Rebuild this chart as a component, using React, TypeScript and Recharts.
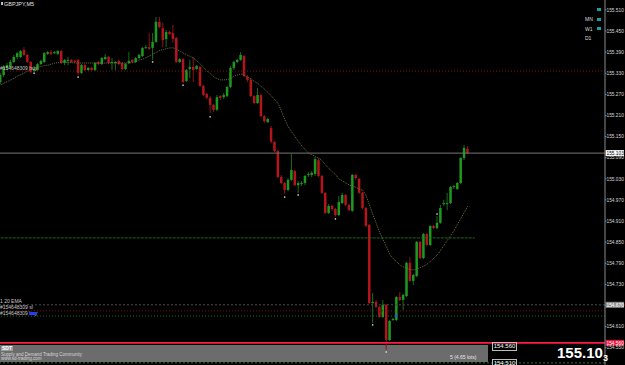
import React from 'react';
import { ComposedChart, Bar, Line, XAxis, YAxis, ReferenceLine } from 'recharts';

// GBPJPY M5 candles
const OPEN = [
  155.305, 155.325, 155.345, 155.348, 155.362, 155.376, 155.376, 155.396, 155.382, 155.362,
  155.336, 155.339, 155.356, 155.362, 155.385, 155.390, 155.387, 155.385, 155.393, 155.359,
  155.365, 155.368, 155.365, 155.368, 155.331, 155.353, 155.339, 155.345, 155.339, 155.362,
  155.356, 155.370, 155.376, 155.359, 155.359, 155.365, 155.359, 155.342, 155.359, 155.368,
  155.362, 155.373, 155.379, 155.402, 155.404, 155.402, 155.419, 155.476, 155.458, 155.427,
  155.447, 155.444, 155.430, 155.362, 155.370, 155.308, 155.342, 155.348, 155.342, 155.348,
  155.294, 155.271, 155.260, 155.240, 155.226, 155.265, 155.262, 155.265, 155.291, 155.345,
  155.362, 155.368, 155.379, 155.319, 155.311, 155.265, 155.245, 155.268, 155.208, 155.191,
  155.174, 155.135, 155.109, 155.035, 155.018, 154.998, 155.027, 155.052, 155.012, 155.015,
  155.018, 155.041, 155.041, 155.044, 155.083, 155.038, 154.990, 154.933, 154.953, 154.944,
  154.927, 154.961, 154.984, 154.956, 154.939, 155.041, 155.030, 154.990, 154.947, 154.899,
  154.677, 154.680, 154.666, 154.637, 154.672, 154.572, 154.629, 154.629, 154.694, 154.686,
  154.697, 154.791, 154.740, 154.754, 154.851, 154.805, 154.873, 154.842, 154.896, 154.890,
  154.905, 154.958, 154.958, 154.961, 155.007, 155.001, 155.018, 155.089, 155.115,
];
const HIGH = [
  155.331, 155.353, 155.359, 155.368, 155.382, 155.390, 155.396, 155.404, 155.385, 155.365,
  155.351, 155.359, 155.368, 155.390, 155.393, 155.396, 155.393, 155.396, 155.396, 155.370,
  155.376, 155.370, 155.368, 155.370, 155.356, 155.356, 155.348, 155.348, 155.362, 155.365,
  155.376, 155.385, 155.379, 155.373, 155.365, 155.368, 155.362, 155.359, 155.390, 155.370,
  155.376, 155.385, 155.404, 155.410, 155.444, 155.444, 155.490, 155.490, 155.473, 155.453,
  155.450, 155.467, 155.433, 155.373, 155.373, 155.342, 155.368, 155.376, 155.353, 155.351,
  155.297, 155.274, 155.265, 155.243, 155.268, 155.268, 155.274, 155.294, 155.351, 155.365,
  155.370, 155.390, 155.382, 155.325, 155.314, 155.268, 155.288, 155.271, 155.211, 155.203,
  155.180, 155.137, 155.112, 155.041, 155.021, 155.032, 155.101, 155.055, 155.024, 155.024,
  155.041, 155.049, 155.052, 155.092, 155.089, 155.041, 154.993, 154.958, 154.956, 154.947,
  154.981, 154.990, 154.987, 154.958, 155.044, 155.044, 155.032, 154.993, 154.950, 154.902,
  154.706, 154.686, 154.669, 154.686, 154.674, 154.629, 154.635, 154.697, 154.708, 154.703,
  154.794, 154.808, 154.760, 154.853, 154.853, 154.876, 154.876, 154.899, 154.899, 154.924,
  154.956, 154.970, 154.990, 155.010, 155.012, 155.021, 155.092, 155.126, 155.123,
];
const LOW = [
  155.299, 155.319, 155.339, 155.345, 155.359, 155.370, 155.373, 155.379, 155.359, 155.331,
  155.333, 155.336, 155.353, 155.359, 155.382, 155.382, 155.385, 155.382, 155.356, 155.353,
  155.353, 155.359, 155.359, 155.325, 155.328, 155.336, 155.336, 155.336, 155.336, 155.353,
  155.353, 155.368, 155.356, 155.339, 155.339, 155.353, 155.339, 155.339, 155.356, 155.359,
  155.359, 155.370, 155.376, 155.399, 155.396, 155.368, 155.416, 155.458, 155.404, 155.404,
  155.439, 155.416, 155.359, 155.359, 155.302, 155.305, 155.316, 155.305, 155.339, 155.291,
  155.265, 155.257, 155.217, 155.220, 155.223, 155.254, 155.257, 155.262, 155.288, 155.339,
  155.359, 155.365, 155.319, 155.305, 155.262, 155.243, 155.243, 155.206, 155.189, 155.189,
  155.132, 155.106, 155.032, 155.015, 154.987, 154.995, 155.024, 155.010, 154.990, 155.010,
  155.012, 155.035, 155.035, 155.038, 155.035, 154.987, 154.930, 154.930, 154.939, 154.922,
  154.924, 154.958, 154.953, 154.939, 154.936, 155.027, 154.987, 154.944, 154.893, 154.674,
  154.620, 154.663, 154.635, 154.635, 154.544, 154.569, 154.626, 154.626, 154.683, 154.657,
  154.694, 154.737, 154.728, 154.751, 154.802, 154.802, 154.839, 154.839, 154.887, 154.887,
  154.902, 154.953, 154.941, 154.958, 155.001, 154.998, 155.015, 155.083, 155.101,
];
const CLOSE = [
  155.325, 155.348, 155.353, 155.362, 155.376, 155.387, 155.393, 155.382, 155.362, 155.333,
  155.342, 155.356, 155.365, 155.387, 155.390, 155.385, 155.390, 155.393, 155.359, 155.368,
  155.368, 155.362, 155.362, 155.331, 155.353, 155.339, 155.345, 155.339, 155.359, 155.356,
  155.373, 155.376, 155.359, 155.362, 155.362, 155.356, 155.342, 155.356, 155.365, 155.362,
  155.373, 155.382, 155.402, 155.404, 155.399, 155.419, 155.476, 155.461, 155.424, 155.447,
  155.441, 155.427, 155.362, 155.370, 155.305, 155.339, 155.348, 155.339, 155.351, 155.294,
  155.268, 155.260, 155.240, 155.226, 155.262, 155.260, 155.268, 155.291, 155.345, 155.362,
  155.368, 155.382, 155.322, 155.311, 155.265, 155.245, 155.268, 155.208, 155.194, 155.200,
  155.135, 155.109, 155.035, 155.018, 154.998, 155.027, 155.055, 155.012, 155.018, 155.018,
  155.038, 155.044, 155.047, 155.086, 155.038, 154.990, 154.933, 154.953, 154.944, 154.927,
  154.964, 154.984, 154.956, 154.941, 155.041, 155.032, 154.990, 154.947, 154.896, 154.677,
  154.680, 154.666, 154.637, 154.672, 154.572, 154.626, 154.632, 154.694, 154.686, 154.700,
  154.791, 154.740, 154.757, 154.851, 154.805, 154.873, 154.842, 154.896, 154.890, 154.905,
  154.947, 154.961, 154.961, 155.007, 155.010, 155.018, 155.089, 155.118, 155.103,
];
// 20 EMA (dotted khaki line)
const EMA20 = [
  155.297, 155.302, 155.306, 155.311, 155.316, 155.322, 155.326, 155.331, 155.336, 155.341,
  155.345, 155.348, 155.349, 155.352, 155.353, 155.356, 155.359, 155.360, 155.362, 155.362,
  155.360, 155.360, 155.359, 155.359, 155.359, 155.359, 155.359, 155.359, 155.359, 155.359,
  155.359, 155.359, 155.359, 155.359, 155.359, 155.359, 155.359, 155.359, 155.359, 155.360,
  155.363, 155.368, 155.370, 155.375, 155.379, 155.385, 155.389, 155.395, 155.397, 155.400,
  155.402, 155.402, 155.397, 155.392, 155.387, 155.382, 155.378, 155.372, 155.365, 155.356,
  155.346, 155.336, 155.328, 155.319, 155.314, 155.311, 155.311, 155.312, 155.316, 155.322,
  155.325, 155.328, 155.323, 155.319, 155.314, 155.306, 155.301, 155.292, 155.284, 155.275,
  155.265, 155.254, 155.243, 155.220, 155.197, 155.177, 155.163, 155.149, 155.135, 155.123,
  155.112, 155.103, 155.098, 155.093, 155.089, 155.081, 155.069, 155.059, 155.049, 155.041,
  155.029, 155.024, 155.018, 155.012, 155.010, 155.005, 155.001, 154.997, 154.981, 154.953,
  154.927, 154.902, 154.876, 154.856, 154.836, 154.814, 154.802, 154.794, 154.785, 154.779,
  154.775, 154.772, 154.771, 154.774, 154.778, 154.782, 154.788, 154.796, 154.805, 154.814,
  154.828, 154.842, 154.856, 154.870, 154.885, 154.902, 154.919, 154.936, 154.953,
];
// fractal dots: [bar index, price]
const FRACTALS: [number, number][] = [
  [10, 155.330], [23, 155.319], [45, 155.362], [54, 155.296], [62, 155.206], [84, 154.978],
  [88, 154.984], [99, 154.916], [110, 154.615], [114, 154.538], [129, 154.930],
];
const ENTRY: [number, number] = [117, 154.640];

const PRICE_TICKS = [
  155.51, 155.45, 155.39, 155.33, 155.27, 155.21, 155.15, 155.09, 155.03,
  154.97, 154.91, 154.85, 154.79, 154.73, 154.67, 154.61, 154.55,
];

const BID = 155.103;
const BUY_LEVEL = 155.336;
const ZONE_LEVEL = 154.862;
const EMA_LEVEL = 154.672;
const SL_LEVEL = 154.655;
const BUY2_LEVEL = 154.64;
const ALERT_LEVEL = 154.564;
const SESSION_LEVEL = 154.507;

const SLOTS = 179; // chart shift leaves empty space on the right
const FONT = "'Liberation Sans', Arial, sans-serif";

const rows = Array.from({ length: SLOTS }, (_, i) => {
  const has = i < OPEN.length;
  const f = FRACTALS.find(d => d[0] === i);
  return {
    slot: i,
    open: has ? OPEN[i] : null,
    high: has ? HIGH[i] : null,
    low: has ? LOW[i] : null,
    close: has ? CLOSE[i] : null,
    range: has ? [LOW[i], HIGH[i]] : null,
    ema: has ? EMA20[i] : null,
    dot: f ? f[1] : null,
    entry: i === ENTRY[0] ? ENTRY[1] : null,
  };
});

function Candle(props: any) {
  const { x, y, width, height, payload } = props;
  if (!payload || payload.open == null) return null;
  const { open, close, high, low, dot, entry } = payload;
  const top = height < 0 ? y + height : y;
  const span = Math.abs(height);
  const k = span / (high - low || 1);
  const py = (v: number) => top + (high - v) * k;
  const up = close >= open;
  const body = up ? '#1d9a1d' : '#b3151b';
  const wick = up ? '#1e6a1e' : '#8a1418';
  const cx = x + width / 2;
  const bTop = py(Math.max(open, close));
  const bBot = py(Math.min(open, close));
  return (
    <g>
      <line x1={cx} x2={cx} y1={top} y2={top + span} stroke={wick} strokeWidth={1} />
      <rect x={x} y={bTop} width={width} height={Math.max(1, bBot - bTop)} fill={body} />
      {dot != null && <rect x={cx - 0.7} y={py(dot) - 0.7} width={1.4} height={1.4} fill="#e6e6e6" />}
      {entry != null && <rect x={cx - 1.2} y={py(entry) - 1.2} width={2.4} height={2.4} fill="#2255ff" />}
    </g>
  );
}

type TagOpts = { left?: string; right?: string; bg?: string; fg?: string; arrow?: boolean };

function lineTag(vb: any, o: TagOpts) {
  const x0 = vb?.x ?? 0;
  const y0 = vb?.y ?? 0;
  const right = x0 + (vb?.width ?? 606);
  return (
    <g>
      {o.left && (
        <text x={x0 + 1} y={y0 - 1.5} fontSize={5} fill="#c9c9c9" fontFamily={FONT}>{o.left}</text>
      )}
      {o.arrow && <polygon points={`${x0 + 30},${y0 - 4} ${x0 + 39},${y0 - 4} ${x0 + 36},${y0 - 1} ${x0 + 31},${y0 - 1}`} fill="#1f3cff" />}
      {o.right && (
        <g>
          <rect x={right + 0.5} y={y0 - 3} width={18.5} height={6} fill={o.bg} />
          <text x={right + 1.5} y={y0 + 1.7} fontSize={4.8} fill={o.fg} fontFamily={FONT}>{o.right}</text>
        </g>
      )}
    </g>
  );
}

export default function App() {
  return (
    <div style={{ position: 'relative', width: 625, height: 365, background: '#000', overflow: 'hidden', fontFamily: FONT }}>
      <style>{'body{margin:0;background:#000}'}</style>

      {/* info panel sits behind the chart */}
      <div style={{ position: 'absolute', left: 0, top: 345, width: 488, height: 17, background: '#6c6c6c' }}>
        <div style={{ position: 'absolute', left: 1, top: 1, fontSize: 5, fontWeight: 700, color: '#fff', background: '#9a9a9a', padding: '0 1px', lineHeight: '5px' }}>SDT</div>
        <div style={{ position: 'absolute', left: 1, top: 7, fontSize: 4.5, color: '#d6d6d6', lineHeight: '5px', whiteSpace: 'nowrap' }}>Supply and Demand Trading Community</div>
        <div style={{ position: 'absolute', left: 1, top: 11, fontSize: 4.5, color: '#d6d6d6', lineHeight: '5px', whiteSpace: 'nowrap' }}>www.sd-trading.com</div>
        <div style={{ position: 'absolute', left: 450, top: 9, fontSize: 5, color: '#e6e6e6', lineHeight: '6px', whiteSpace: 'nowrap' }}>5 (4.65 lots)</div>
      </div>

      <div style={{ position: 'absolute', left: 0, top: 0 }}>
        <ComposedChart width={625} height={365} data={rows} margin={{ top: 0, right: 0, bottom: 0, left: -1 }} barCategoryGap={0}>
          <XAxis dataKey="slot" hide />
          <YAxis
            orientation="right"
            width={20}
            domain={[154.501, 155.538]}
            allowDataOverflow
            ticks={PRICE_TICKS}
            interval={0}
            tickFormatter={(v: number) => v.toFixed(3)}
            tick={{ fontSize: 4.8, fill: '#d8d8d8', fontFamily: FONT }}
            tickSize={1.5}
            tickMargin={0}
            stroke="#8a8a8a"
          />
          <ReferenceLine y={BUY_LEVEL} stroke="#7e1010" strokeDasharray="1 2" label={(p: any) => lineTag(p.viewBox, { left: '#154648309 buy' })} />
          <ReferenceLine y={BID} stroke="#777" label={(p: any) => lineTag(p.viewBox, { right: '155.103', bg: '#fff', fg: '#000' })} />
          <ReferenceLine segment={[{ x: 0, y: ZONE_LEVEL }, { x: 140, y: ZONE_LEVEL }]} stroke="#1c6a1c" strokeDasharray="3 1" />
          <ReferenceLine y={EMA_LEVEL} stroke="#4a4a4a" strokeDasharray="2 2" label={(p: any) => lineTag(p.viewBox, { left: '1 20 EMA', right: '154.670', bg: '#8a8a8a', fg: '#fff' })} />
          <ReferenceLine y={SL_LEVEL} stroke="#7e1010" strokeDasharray="1 2" label={(p: any) => lineTag(p.viewBox, { left: '#154648309 sl' })} />
          <ReferenceLine y={BUY2_LEVEL} stroke="#1c6e1c" strokeDasharray="1 2" label={(p: any) => lineTag(p.viewBox, { left: '#154648309 buy', arrow: true })} />
          <ReferenceLine y={ALERT_LEVEL} stroke="#ff1a45" strokeWidth={1.6} label={(p: any) => lineTag(p.viewBox, { right: '154.560', bg: '#e8163c', fg: '#fff' })} />
          <ReferenceLine y={SESSION_LEVEL} stroke="#2e7a2e" strokeDasharray="2 2" />
          <Line dataKey="ema" stroke="#707040" strokeWidth={1} strokeDasharray="1 1" dot={false} activeDot={false} type="linear" isAnimationActive={false} />
          <Bar dataKey="range" barSize={2.5} shape={Candle} activeBar={false} isAnimationActive={false} />
        </ComposedChart>
      </div>

      {/* chart window captions */}
      <div style={{ position: 'absolute', left: 1, top: 2, width: 2, height: 3, background: '#bbb' }} />
      <div style={{ position: 'absolute', left: 4, top: 1, fontSize: 5.5, color: '#e6e6e6', lineHeight: '6px' }}>GBPJPY,M5</div>
      {['MN', 'W1', 'D1'].map((t, i) => (
        <div key={t} style={{ position: 'absolute', left: 585, top: 7 + i * 9.5, height: 6, width: 18 }}>
          <span style={{ fontSize: 5, color: '#dcdcdc', lineHeight: '6px' }}>{t}</span>
          <span style={{ position: 'absolute', left: 12, top: 1, width: 4, height: 3, background: '#1aa0a0' }} />
        </div>
      ))}

      {/* price boxes and big bid */}
      <div style={{ position: 'absolute', left: 492, top: 342, width: 23, height: 7, border: '1px solid #bdbdbd', fontSize: 6, color: '#fff', lineHeight: '7px', textAlign: 'center' }}>154.560</div>
      <div style={{ position: 'absolute', left: 492, top: 359, width: 23, height: 7, border: '1px solid #bdbdbd', fontSize: 6, color: '#fff', lineHeight: '7px', textAlign: 'center' }}>154.510</div>
      <div style={{ position: 'absolute', left: 557, top: 345, color: '#fff', fontWeight: 700, whiteSpace: 'nowrap', lineHeight: '15px' }}>
        <span style={{ fontSize: 15 }}>155.10</span>
        <span style={{ fontSize: 9, position: 'relative', top: 3 }}>3</span>
      </div>
    </div>
  );
}
